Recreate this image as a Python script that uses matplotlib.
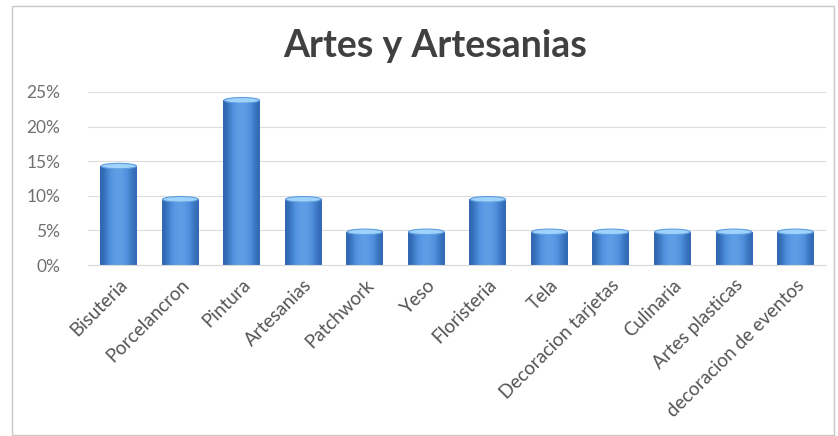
import numpy as np
import matplotlib
matplotlib.use("Agg")
import matplotlib.pyplot as plt
from matplotlib.patches import Ellipse, Rectangle
from matplotlib.ticker import PercentFormatter

categories = ["Bisuteria", "Porcelancron", "Pintura", "Artesanias", "Patchwork", "Yeso",
              "Floristeria", "Tela", "Decoracion tarjetas", "Culinaria",
              "Artes plasticas", "decoracion de eventos"]
shares = [14.3, 9.5, 23.8, 9.5, 4.8, 4.8, 9.5, 4.8, 4.8, 4.8, 4.8, 4.8]

plt.rcParams["font.family"] = ["Lato", "DejaVu Sans"]

fig = plt.figure(figsize=(8.38, 4.36), dpi=100)
ax = fig.add_axes([0.105, 0.392, 0.881, 0.397])

# outer chart frame
fig.patches.append(Rectangle((12 / 838, 0.002), 822 / 838, 0.985, transform=fig.transFigure,
                             fill=False, edgecolor="#c8c8c8", linewidth=1.0))

x = np.arange(len(categories))
width = 0.6
bars = ax.bar(x, shares, width=width, color="#4a8ad6", edgecolor="none", zorder=2)

# horizontal shading so the bars read as cylinders
grad = np.array([[0.0, 0.4, 0.7, 0.85, 0.7, 0.4, 0.05]])
cmap = matplotlib.colors.LinearSegmentedColormap.from_list(
    "cyl", ["#2e66b0", "#4f8fdc", "#6aa8ec"])
for b, v in zip(bars, shares):
    x0 = b.get_x()
    im = ax.imshow(grad, cmap=cmap, aspect="auto", extent=(x0, x0 + width, 0, v),
                   zorder=2, interpolation="bicubic", vmin=0, vmax=1)
    im.set_clip_path(b)
    ax.add_patch(Ellipse((b.get_x() + width / 2, v), width * 0.96, 0.8,
                         facecolor="#9fd3fb", edgecolor="#5d9de0", linewidth=0.8, zorder=3))

ax.set_xlim(-0.5, len(categories) - 0.5)
ax.set_ylim(0, 25)
ax.set_yticks([0, 5, 10, 15, 20, 25])
ax.yaxis.set_major_formatter(PercentFormatter(decimals=0))
ax.grid(axis="y", color="#dcdcdc", linewidth=0.8, zorder=0)
ax.set_axisbelow(True)
for s in ["top", "right", "left"]:
    ax.spines[s].set_visible(False)
ax.spines["bottom"].set_color("#d9d9d9")
ax.tick_params(axis="y", length=0, labelsize=12.5, labelcolor="#707070", pad=20)
ax.set_xticks(x)
ax.set_xticklabels(categories, rotation=45, ha="right", rotation_mode="anchor")
ax.tick_params(axis="x", length=0, labelsize=13.5, labelcolor="#555555", pad=8)

fig.text(0.519, 0.895, "Artes y Artesanias", ha="center", va="center",
         fontsize=27, fontweight="bold", color="#404040")

fig.savefig("out.png", dpi=100)
